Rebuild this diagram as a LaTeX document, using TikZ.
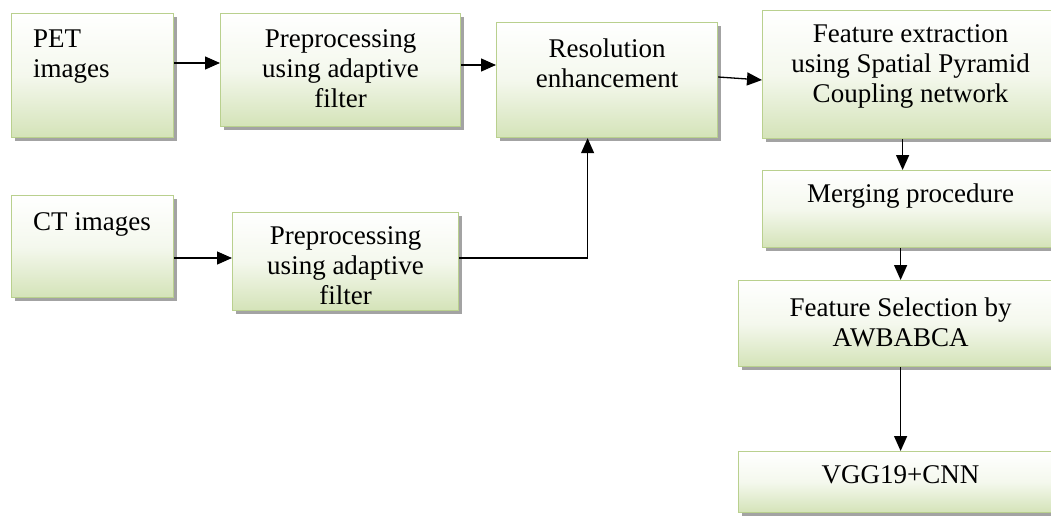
\documentclass[tikz,border=0pt]{standalone}
\usepackage{fontspec}
\setmainfont{Liberation Serif}
\usetikzlibrary{arrows.meta,shadows,positioning}
\definecolor{boxline}{RGB}{185,208,142}
\definecolor{boxbottom}{RGB}{212,227,184}
\begin{document}
\begin{tikzpicture}[x=1pt,y=-1pt,
  stage/.style={draw=boxline, line width=1.2pt, top color=white, bottom color=boxbottom,
    middle color=boxbottom!25, rectangle, inner sep=0pt, anchor=north west,
    drop shadow={shadow xshift=3.5pt, shadow yshift=-3.5pt, fill=black!45, opacity=0.8}},
  lbl/.style={font=\fontsize{27}{30}\selectfont, inner sep=0pt, align=center},
  lbll/.style={font=\fontsize{27}{30}\selectfont, inner sep=0pt, align=left},
  flow/.style={line width=1.3pt, -{Triangle[length=15pt,width=13pt]}}]
\useasboundingbox (0,0) rectangle (1051,520);
\clip (0,0) rectangle (1051,520);

% boxes
\node[stage, minimum width=162pt, minimum height=124pt] (pet)   at (11,13)  {};
\node[stage, minimum width=240pt, minimum height=113pt] (pre1)  at (220,13) {};
\node[stage, minimum width=221pt, minimum height=115pt] (res)   at (496,22) {};
\node[stage, minimum width=296pt, minimum height=128pt] (feat)  at (762,10) {};
\node[stage, minimum width=296pt, minimum height=77pt]  (merge) at (762,170) {};
\node[stage, minimum width=162pt, minimum height=102pt] (ct)    at (11,195) {};
\node[stage, minimum width=226pt, minimum height=98pt]  (pre2)  at (232,212) {};
\node[stage, minimum width=324pt, minimum height=86pt]  (fs)    at (738,280) {};
\node[stage, minimum width=324pt, minimum height=61pt]  (vgg)   at (738,451) {};

% texts (anchored at the baseline of their last line)
\node[lbll, anchor=base west] (tpet) at ([xshift=22pt,yshift=-64pt]pet.north west) {PET\\images};
\node[lbl, anchor=base] (tpre1) at ([yshift=-94pt]pre1.north) {Preprocessing\\using adaptive\\filter};
\node[lbl, anchor=base] (tres) at ([yshift=-65pt]res.north) {Resolution\\enhancement};
\node[lbl, anchor=base] (tfeat) at ([yshift=-92pt]feat.north) {Feature extraction\\using Spatial Pyramid\\Coupling network};
\node[lbl, anchor=base] (tmerge) at ([yshift=-32pt]merge.north) {Merging procedure};
\node[lbll, anchor=base west] (tct) at ([xshift=22pt,yshift=-35pt]ct.north west) {CT images};
\node[lbl, anchor=base] (tpre2) at ([yshift=-92pt]pre2.north) {Preprocessing\\using adaptive\\filter};
\node[lbl, anchor=base] (tfs) at ([yshift=-66pt]fs.north) {Feature Selection by\\AWBABCA};
\node[lbl, anchor=base] (tvgg) at ([yshift=-32pt]vgg.north) {VGG19+CNN};

% connectors
\draw[flow] ([yshift=-50pt]pet.north east) -- ([yshift=-50pt]pre1.north west);
\draw[flow] ([yshift=-52pt]pre1.north east) -- ([yshift=-43pt]res.north west);
\draw[flow] ([yshift=-55pt]res.north east) -- ([yshift=-70pt]feat.north west);
\draw[flow] ([yshift=-63pt]ct.north east) -- ([yshift=-46pt]pre2.north west);
\draw[flow] ([yshift=-46pt]pre2.north east) -| ([xshift=-19.5pt]res.south);
\draw[flow] ([xshift=-8pt]feat.south) -- ([xshift=-8pt]merge.north);
\draw[flow] ([xshift=-10pt]merge.south) -- (fs.north);
\draw[flow] (fs.south) -- (vgg.north);
\end{tikzpicture}
\end{document}
